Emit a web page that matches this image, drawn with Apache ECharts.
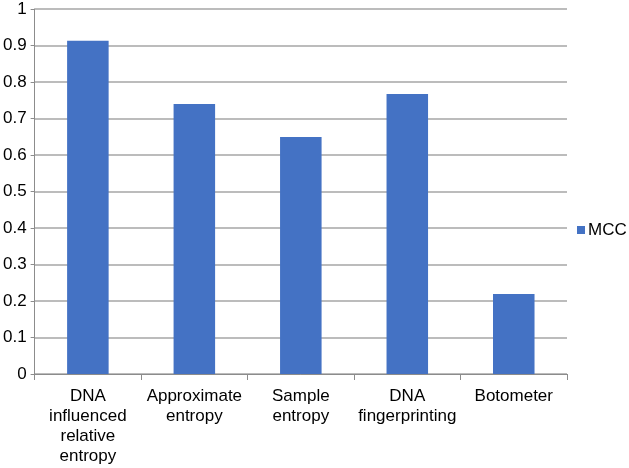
<!DOCTYPE html>
<html>
<head>
<meta charset="utf-8">
<script src="https://cdn.jsdelivr.net/npm/echarts@6/dist/echarts.min.js"></script>
<style>
html, body { margin: 0; padding: 0; background: #fff; }
#main { width: 629px; height: 468px; }
</style>
</head>
<body>
<div id="main"></div>
<script>
// 数据
var categories = ['DNA\ninfluenced\nrelative\nentropy', 'Approximate\nentropy', 'Sample\nentropy', 'DNA\nfingerprinting', 'Botometer'];
var mccValues = [0.913, 0.740, 0.649, 0.767, 0.219];
var seriesName = 'MCC';

var myChart = echarts.init(document.getElementById('main'));

var option = {
	animation: false,
	backgroundColor: '#fff',
	textStyle: { fontFamily: 'Liberation Sans, Arial, sans-serif' },
	grid: { left: 33, right: 62, top: 9, bottom: 94 },
	legend: {
		data: [seriesName],
		orient: 'vertical',
		left: 577,
		top: 221,
		padding: 0,
		icon: 'rect',
		itemWidth: 8,
		itemHeight: 8,
		textStyle: { fontSize: 17, lineHeight: 18, color: '#000', padding: [0, 0, 0, -2] }
	},
	xAxis: {
		type: 'category',
		data: categories,
		axisLine: { lineStyle: { color: '#8c8c8c', width: 1 } },
		axisTick: { show: true, alignWithLabel: false, length: 6, lineStyle: { color: '#8c8c8c' } },
		axisLabel: { fontSize: 17, color: '#000', lineHeight: 20, margin: 12, interval: 0 }
	},
	yAxis: {
		type: 'value',
		min: 0,
		max: 1,
		interval: 0.1,
		axisLine: { show: true, lineStyle: { color: '#8c8c8c', width: 1 } },
		axisTick: { show: true, length: 4, lineStyle: { color: '#8c8c8c' } },
		axisLabel: { fontSize: 17, color: '#000', margin: 8 },
		splitLine: { lineStyle: { color: '#a6a6a6', width: 1.5 } }
	},
	series: [{
		name: seriesName,
		type: 'bar',
		data: mccValues,
		barWidth: '39%',
		itemStyle: { color: '#4472c4' }
	}]
};

myChart.setOption(option);
</script>
</body>
</html>
